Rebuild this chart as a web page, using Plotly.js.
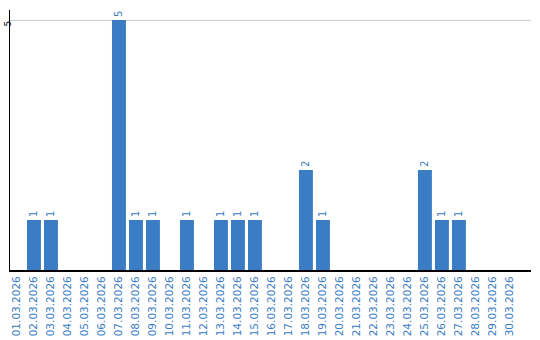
<!DOCTYPE html>
<html><head><meta charset="utf-8">
<script src="https://cdn.plot.ly/plotly-3.0.1.min.js"></script>
<style>html,body{margin:0;padding:0;background:#fff}#c{width:540px;height:340px}</style>
</head><body><div id="c"></div>
<script>
const dates = ["01.03.2026","02.03.2026","03.03.2026","04.03.2026","05.03.2026","06.03.2026","07.03.2026","08.03.2026","09.03.2026","10.03.2026","11.03.2026","12.03.2026","13.03.2026","14.03.2026","15.03.2026","16.03.2026","17.03.2026","18.03.2026","19.03.2026","20.03.2026","21.03.2026","22.03.2026","23.03.2026","24.03.2026","25.03.2026","26.03.2026","27.03.2026","28.03.2026","29.03.2026","30.03.2026"];
const counts = [0,1,1,0,0,0,5,1,1,0,1,0,1,1,1,0,0,2,1,0,0,0,0,0,2,1,1,0,0,0];
const yTicks = [5];
const blue = "#3b7dc4";
const labels = counts.map(v => v > 0 ? String(v) : "");
Plotly.newPlot("c", [{
  type: "bar", x: dates, y: counts, text: labels, textposition: "outside",
  textangle: -90, cliponaxis: false,
  textfont: {family: "DejaVu Sans", size: 10, color: blue},
  marker: {color: blue}, hoverinfo: "none"
}], {
  width: 540, height: 340,
  margin: {l: 10, r: 9, t: 10, b: 70, pad: 0},
  paper_bgcolor: "#fff", plot_bgcolor: "#fff",
  bargap: 0.18, showlegend: false,
  font: {family: "DejaVu Sans"},
  xaxis: {type: "category", range: [-0.41, 30.24], tickangle: -90,
    tickfont: {family: "DejaVu Sans", size: 10.5, color: blue},
    showline: true, linecolor: "#000", linewidth: 2, showgrid: false, ticks: "", automargin: false},
  yaxis: {range: [0, 5.2], tickvals: yTicks, ticktext: yTicks.map(String), tickangle: -90,
    ticklabelstandoff: -6, ticklabelshift: 5,
    tickfont: {family: "DejaVu Sans", size: 9, color: "#000"},
    showline: true, linecolor: "#000", linewidth: 1, showgrid: true, gridcolor: "#cccccc",
    zeroline: false, ticks: "", automargin: false}
}, {staticPlot: true, displayModeBar: false});
</script></body></html>
